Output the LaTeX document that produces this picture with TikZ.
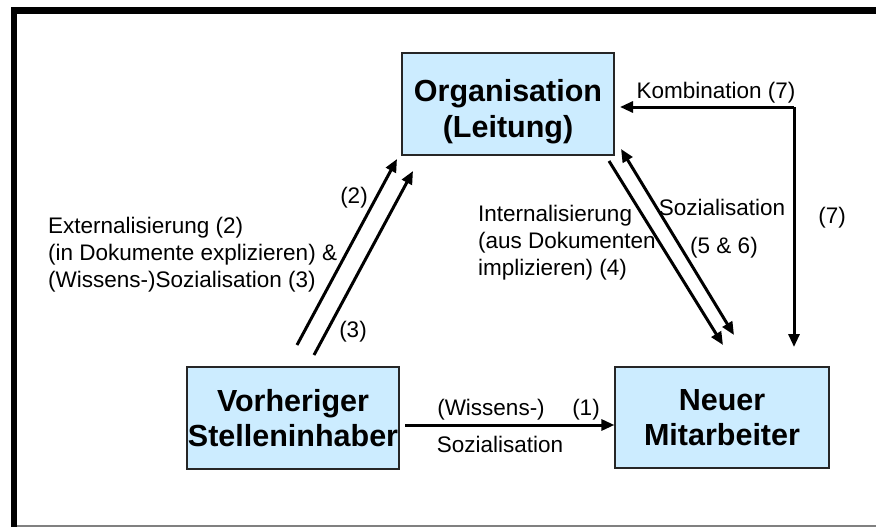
\documentclass[tikz,border=0pt]{standalone}
\usepackage{fontspec}
\setmainfont{Liberation Sans}
\usetikzlibrary{arrows.meta}
\definecolor{boxblue}{HTML}{CCECFF}
\tikzset{box/.style = {draw=black!85, fill=boxblue, line width=1.2pt, rectangle, minimum height=102pt, minimum width=212pt, align=center, inner sep=0pt,
                       font=\fontsize{30.5}{35}\selectfont\bfseries},
         boxtext/.style = {align=center, inner sep=0pt, font=\fontsize{30.5}{36}\selectfont\bfseries},
         arr/.style = {line width=3pt, -{Triangle[length=13pt,width=11pt]}},
         lbl/.style = {inner sep=0pt, font=\fontsize{22.5}{27}\selectfont}}

\begin{document}
\begin{tikzpicture}[x=1pt,y=-1pt]
        \useasboundingbox (0,0) rectangle (876,527);
        % frame
        \draw[line width=6.5pt] (14,527) -- (14,10.5) -- (876,10.5);
        \draw[gray, line width=1.5pt] (17,526) -- (876,526);

        % boxes
        \node[box] (org) at (508,104) {};
        \node[boxtext] (orgtxt) at (508,112) {Organisation\\(Leitung)};
        \node[box] (vor) at (293,418) {Vorheriger\\Stelleninhaber};
        \node[box, minimum width=214pt, minimum height=101pt] (neu) at (722,417.5) {Neuer\\Mitarbeiter};

        % arrow ends
        \coordinate (a1) at (297,345);  \coordinate (a2) at (397,159);
        \coordinate (b1) at (314,355);  \coordinate (b2) at (413,171);
        \coordinate (c1) at (609,161);  \coordinate (c2) at (723,345);
        \coordinate (d1) at (621,149);  \coordinate (d2) at (734,335);
        \coordinate (k1) at (794,107);  \coordinate (k2) at (794,347);
        \coordinate (k3) at (620,107);
        \coordinate (s1) at (405,425);

        \draw[arr] (a1) -- (a2);
        \draw[arr] (b1) -- (b2);
        \draw[arr] (c1) -- (c2);
        \draw[arr, {Triangle[length=13pt,width=11pt]}-{Triangle[length=13pt,width=11pt]}] (d1) -- (d2);
        \draw[arr] (k1) -- (k3);
        \draw[arr] (k1) -- (k2);
        \draw[arr] (s1) -- (neu.west |- s1);

        % labels
        \node[lbl, anchor=west, align=left] (ext) at (48,255) {Externalisierung (2)\\(in Dokumente explizieren) \&\\(Wissens-)Sozialisation (3)};
        \node[lbl] (n2) at (354,198) {(2)};
        \node[lbl] (n3) at (353,332) {(3)};
        \node[lbl, anchor=west, align=left] (int) at (478,243) {Internalisierung\\(aus Dokumenten\\implizieren) (4)};
        \node[lbl] (soz) at (722,207) {Sozialisation};
        \node[lbl] (n56) at (724,248) {(5 \& 6)};
        \node[lbl] (komb) at (716,93) {Kombination (7)};
        \node[lbl] (n7) at (832,218) {(7)};
        \node[lbl] (wis) at (491,410) {(Wissens-)};
        \node[lbl] (n1) at (586,410) {(1)};
        \node[lbl] (soz2) at (500,444) {Sozialisation};
\end{tikzpicture}
\end{document}
